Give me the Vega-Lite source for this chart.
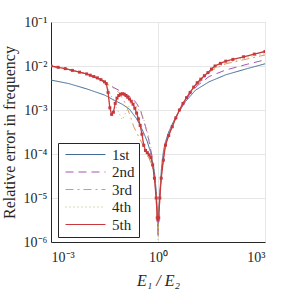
{
  "$schema": "https://vega.github.io/schema/vega-lite/v6.json",
  "width": 214,
  "height": 220,
  "autosize": {"type": "none"},
  "padding": {"left": 51, "top": 22, "right": 26, "bottom": 49},
  "config": {
    "font": "Liberation Serif",
    "view": {"stroke": "#d4d4d4"},
    "axis": {
      "grid": true,
      "gridColor": "#e6e6e6",
      "gridWidth": 1,
      "ticks": false,
      "domainColor": "#262626",
      "domainWidth": 1,
      "labelFont": "Liberation Serif",
      "labelFontSize": 14,
      "labelColor": "#262626",
      "titleFont": "Liberation Serif",
      "titleFontSize": 16,
      "titleFontWeight": "normal",
      "titleColor": "#262626"
    }
  },
  "datasets": {
    "curves": [
      {"s":"1st","x":0.001,"y":0.004786},
      {"s":"1st","x":0.003162,"y":0.003981},
      {"s":"1st","x":0.01,"y":0.00302},
      {"s":"1st","x":0.03162,"y":0.002188},
      {"s":"1st","x":0.0631,"y":0.001622},
      {"s":"1st","x":0.1,"y":0.001349},
      {"s":"1st","x":0.1585,"y":0.001047},
      {"s":"1st","x":0.2512,"y":0.000631},
      {"s":"1st","x":0.3162,"y":0.0004467},
      {"s":"1st","x":0.3981,"y":0.000302},
      {"s":"1st","x":0.5012,"y":0.0001905},
      {"s":"1st","x":0.631,"y":0.0001047},
      {"s":"1st","x":0.7943,"y":0.00003981},
      {"s":"1st","x":0.8913,"y":0.00001413},
      {"s":"1st","x":1,"y":0.000002239},
      {"s":"1st","x":1.122,"y":0.00001259},
      {"s":"1st","x":1.259,"y":0.00005012},
      {"s":"1st","x":1.413,"y":0.0001122},
      {"s":"1st","x":1.585,"y":0.0001778},
      {"s":"1st","x":1.995,"y":0.0003162},
      {"s":"1st","x":2.512,"y":0.0004786},
      {"s":"1st","x":3.162,"y":0.0007079},
      {"s":"1st","x":5.888,"y":0.001549},
      {"s":"1st","x":11.22,"y":0.002818},
      {"s":"1st","x":26.92,"y":0.004365},
      {"s":"1st","x":79.43,"y":0.00631},
      {"s":"1st","x":316.2,"y":0.00871},
      {"s":"1st","x":1000,"y":0.01122},

      {"s":"2nd","x":0.001,"y":0.01},
      {"s":"2nd","x":0.003162,"y":0.008318},
      {"s":"2nd","x":0.01,"y":0.006607},
      {"s":"2nd","x":0.03162,"y":0.004365},
      {"s":"2nd","x":0.04169,"y":0.003715},
      {"s":"2nd","x":0.07943,"y":0.002818},
      {"s":"2nd","x":0.1259,"y":0.002291},
      {"s":"2nd","x":0.1905,"y":0.001862},
      {"s":"2nd","x":0.2512,"y":0.001413},
      {"s":"2nd","x":0.3236,"y":0.001},
      {"s":"2nd","x":0.3802,"y":0.000631},
      {"s":"2nd","x":0.4467,"y":0.0004169},
      {"s":"2nd","x":0.5495,"y":0.0002089},
      {"s":"2nd","x":0.6607,"y":0.0001},
      {"s":"2nd","x":0.7943,"y":0.00003162},
      {"s":"2nd","x":0.8913,"y":0.00001},
      {"s":"2nd","x":1,"y":0.000001259},
      {"s":"2nd","x":1.122,"y":0.00001},
      {"s":"2nd","x":1.259,"y":0.00003981},
      {"s":"2nd","x":1.413,"y":0.00008913},
      {"s":"2nd","x":1.585,"y":0.0001585},
      {"s":"2nd","x":1.995,"y":0.0002818},
      {"s":"2nd","x":2.512,"y":0.0004467},
      {"s":"2nd","x":3.162,"y":0.0006761},
      {"s":"2nd","x":5.012,"y":0.001318},
      {"s":"2nd","x":7.943,"y":0.002344},
      {"s":"2nd","x":12.59,"y":0.003548},
      {"s":"2nd","x":26.92,"y":0.005754},
      {"s":"2nd","x":79.43,"y":0.008128},
      {"s":"2nd","x":316.2,"y":0.01096},
      {"s":"2nd","x":1000,"y":0.0138},

      {"s":"3rd","x":0.001,"y":0.01},
      {"s":"3rd","x":0.003162,"y":0.008318},
      {"s":"3rd","x":0.01,"y":0.006607},
      {"s":"3rd","x":0.03162,"y":0.004365},
      {"s":"3rd","x":0.03548,"y":0.003981},
      {"s":"3rd","x":0.05129,"y":0.003388},
      {"s":"3rd","x":0.07943,"y":0.002512},
      {"s":"3rd","x":0.123,"y":0.001413},
      {"s":"3rd","x":0.1698,"y":0.0007079},
      {"s":"3rd","x":0.2089,"y":0.0004169},
      {"s":"3rd","x":0.2884,"y":0.0002455},
      {"s":"3rd","x":0.3548,"y":0.0001778},
      {"s":"3rd","x":0.4467,"y":0.0001122},
      {"s":"3rd","x":0.5623,"y":0.00007943},
      {"s":"3rd","x":0.7079,"y":0.00005012},
      {"s":"3rd","x":0.8318,"y":0.00001995},
      {"s":"3rd","x":0.9333,"y":0.000005012},
      {"s":"3rd","x":1,"y":0.000001585},
      {"s":"3rd","x":1.072,"y":0.000005012},
      {"s":"3rd","x":1.202,"y":0.00002512},
      {"s":"3rd","x":1.413,"y":0.00007943},
      {"s":"3rd","x":1.585,"y":0.0001514},
      {"s":"3rd","x":1.995,"y":0.0002692},
      {"s":"3rd","x":2.512,"y":0.0004365},
      {"s":"3rd","x":3.162,"y":0.0006918},
      {"s":"3rd","x":5.012,"y":0.00138},
      {"s":"3rd","x":7.943,"y":0.002512},
      {"s":"3rd","x":12.59,"y":0.003802},
      {"s":"3rd","x":33.11,"y":0.008128},
      {"s":"3rd","x":79.43,"y":0.01122},
      {"s":"3rd","x":316.2,"y":0.01445},
      {"s":"3rd","x":1000,"y":0.01778},

      {"s":"4th","x":0.001,"y":0.01},
      {"s":"4th","x":0.003162,"y":0.008318},
      {"s":"4th","x":0.01,"y":0.006607},
      {"s":"4th","x":0.03162,"y":0.004365},
      {"s":"4th","x":0.03715,"y":0.003548},
      {"s":"4th","x":0.05129,"y":0.001905},
      {"s":"4th","x":0.07079,"y":0.001047},
      {"s":"4th","x":0.1,"y":0.0006026},
      {"s":"4th","x":0.1259,"y":0.0008913},
      {"s":"4th","x":0.1698,"y":0.001413},
      {"s":"4th","x":0.2239,"y":0.001445},
      {"s":"4th","x":0.2818,"y":0.001047},
      {"s":"4th","x":0.3631,"y":0.0007586},
      {"s":"4th","x":0.5012,"y":0.0003548},
      {"s":"4th","x":0.631,"y":0.0001413},
      {"s":"4th","x":0.7943,"y":0.00003981},
      {"s":"4th","x":0.912,"y":0.00001},
      {"s":"4th","x":1,"y":0.000001122},
      {"s":"4th","x":1.096,"y":0.00001},
      {"s":"4th","x":1.259,"y":0.00003548},
      {"s":"4th","x":1.413,"y":0.00007943},
      {"s":"4th","x":1.585,"y":0.0001514},
      {"s":"4th","x":1.995,"y":0.0002692},
      {"s":"4th","x":2.512,"y":0.0004266},
      {"s":"4th","x":3.162,"y":0.0006761},
      {"s":"4th","x":5.012,"y":0.00138},
      {"s":"4th","x":7.943,"y":0.002512},
      {"s":"4th","x":12.59,"y":0.003981},
      {"s":"4th","x":31.62,"y":0.007943},
      {"s":"4th","x":79.43,"y":0.01175},
      {"s":"4th","x":316.2,"y":0.01585},
      {"s":"4th","x":1000,"y":0.01905}
    ],
    "red": [
      {"s":"5th","x":0.001,"y":0.01},
      {"s":"5th","x":0.001585,"y":0.009333},
      {"s":"5th","x":0.002512,"y":0.00871},
      {"s":"5th","x":0.003981,"y":0.007943},
      {"s":"5th","x":0.00631,"y":0.007244},
      {"s":"5th","x":0.01,"y":0.006607},
      {"s":"5th","x":0.01259,"y":0.006166},
      {"s":"5th","x":0.01585,"y":0.005754},
      {"s":"5th","x":0.01995,"y":0.00537},
      {"s":"5th","x":0.02512,"y":0.004898},
      {"s":"5th","x":0.03162,"y":0.004365},
      {"s":"5th","x":0.03548,"y":0.003981},
      {"s":"5th","x":0.03981,"y":0.002512},
      {"s":"5th","x":0.04467,"y":0.001122},
      {"s":"5th","x":0.05012,"y":0.0007943},
      {"s":"5th","x":0.05623,"y":0.0008913},
      {"s":"5th","x":0.0631,"y":0.001413},
      {"s":"5th","x":0.07079,"y":0.001862},
      {"s":"5th","x":0.07943,"y":0.002138},
      {"s":"5th","x":0.08913,"y":0.002291},
      {"s":"5th","x":0.1,"y":0.002344},
      {"s":"5th","x":0.1122,"y":0.002291},
      {"s":"5th","x":0.1259,"y":0.002138},
      {"s":"5th","x":0.1413,"y":0.00195},
      {"s":"5th","x":0.1585,"y":0.001778},
      {"s":"5th","x":0.1778,"y":0.001585},
      {"s":"5th","x":0.1995,"y":0.001349},
      {"s":"5th","x":0.2239,"y":0.001096},
      {"s":"5th","x":0.2512,"y":0.0008511},
      {"s":"5th","x":0.2818,"y":0.000631},
      {"s":"5th","x":0.3162,"y":0.0004467},
      {"s":"5th","x":0.3548,"y":0.0002818},
      {"s":"5th","x":0.3981,"y":0.0001585},
      {"s":"5th","x":0.4467,"y":0.0001202},
      {"s":"5th","x":0.5012,"y":0.0001072},
      {"s":"5th","x":0.5623,"y":0.0000955},
      {"s":"5th","x":0.631,"y":0.00008318},
      {"s":"5th","x":0.7079,"y":0.00005623},
      {"s":"5th","x":0.7943,"y":0.00002818},
      {"s":"5th","x":0.8913,"y":0.00001},
      {"s":"5th","x":0.955,"y":0.000003548},
      {"s":"5th","x":1,"y":0.000003162},
      {"s":"5th","x":1.047,"y":0.000003548},
      {"s":"5th","x":1.122,"y":0.00001},
      {"s":"5th","x":1.23,"y":0.00002818},
      {"s":"5th","x":1.413,"y":0.00007244},
      {"s":"5th","x":1.622,"y":0.0001585},
      {"s":"5th","x":1.995,"y":0.000263},
      {"s":"5th","x":2.512,"y":0.0004169},
      {"s":"5th","x":3.162,"y":0.0006607},
      {"s":"5th","x":3.981,"y":0.001},
      {"s":"5th","x":5.012,"y":0.001413},
      {"s":"5th","x":6.31,"y":0.001905},
      {"s":"5th","x":7.943,"y":0.002512},
      {"s":"5th","x":10,"y":0.003311},
      {"s":"5th","x":12.59,"y":0.004169},
      {"s":"5th","x":15.85,"y":0.005012},
      {"s":"5th","x":19.95,"y":0.006026},
      {"s":"5th","x":25.12,"y":0.007079},
      {"s":"5th","x":31.62,"y":0.008511},
      {"s":"5th","x":39.81,"y":0.01},
      {"s":"5th","x":56.23,"y":0.01148},
      {"s":"5th","x":79.43,"y":0.01288},
      {"s":"5th","x":125.9,"y":0.01413},
      {"s":"5th","x":251.2,"y":0.01622},
      {"s":"5th","x":501.2,"y":0.01862},
      {"s":"5th","x":1000,"y":0.02138}
    ]
  },
  "layer": [
    {
      "data": {"name": "curves"},
      "mark": {"type": "line", "strokeWidth": 1, "clip": true},
      "encoding": {
        "x": {"field": "x", "type": "quantitative", "scale": {"type": "log", "domain": [0.001, 1000]},
          "axis": {"values": [0.001, 1, 1000], "title": "E₁ / E₂", "titleFontStyle": "italic", "labelPadding": 8, "titlePadding": 8,
            "labelExpr": "datum.value < 0.01 ? '10⁻³' : datum.value < 10 ? '10⁰' : '10³'"}},
        "y": {"field": "y", "type": "quantitative", "scale": {"type": "log", "domain": [0.000001, 0.1]},
          "axis": {"values": [0.000001, 0.00001, 0.0001, 0.001, 0.01, 0.1], "title": "Relative error in frequency", "labelPadding": 4, "titlePadding": 6,
            "labelExpr": "'10' + (datum.value < 5e-6 ? '⁻⁶' : datum.value < 5e-5 ? '⁻⁵' : datum.value < 5e-4 ? '⁻⁴' : datum.value < 5e-3 ? '⁻³' : datum.value < 5e-2 ? '⁻²' : '⁻¹')"}},
        "color": {"field": "s", "type": "nominal",
          "scale": {"domain": ["1st", "2nd", "3rd", "4th", "5th"], "range": ["#3f6b94", "#a855b5", "#d99a5e", "#b8b860", "#c8383c"]},
          "legend": {"title": null, "orient": "none", "legendX": 7, "legendY": 121, "padding": 4, "strokeColor": "#262626", "fillColor": "white",
            "symbolType": "M-1,0H9", "symbolSize": 64, "symbolStrokeWidth": 1.2, "labelFontSize": 15, "labelFont": "Liberation Serif", "labelColor": "#262626", "rowPadding": 1.5, "labelOffset": 35}},
        "strokeDash": {"field": "s", "type": "nominal",
          "scale": {"domain": ["1st", "2nd", "3rd", "4th", "5th"], "range": [[1, 0], [8, 5], [8, 4, 2, 4], [1, 3], [1, 0]]},
          "legend": {"title": null, "orient": "none", "legendX": 7, "legendY": 121}}
      }
    },
    {
      "data": {"name": "red"},
      "mark": {"type": "line", "strokeWidth": 1.3, "clip": true, "color": "#c8383c"},
      "encoding": {
        "x": {"field": "x", "type": "quantitative"},
        "y": {"field": "y", "type": "quantitative"}
      }
    },
    {
      "data": {"name": "red"},
      "mark": {"type": "square", "size": 9, "filled": true, "opacity": 1, "color": "#c8383c", "clip": true},
      "encoding": {
        "x": {"field": "x", "type": "quantitative"},
        "y": {"field": "y", "type": "quantitative"}
      }
    }
  ]
}
